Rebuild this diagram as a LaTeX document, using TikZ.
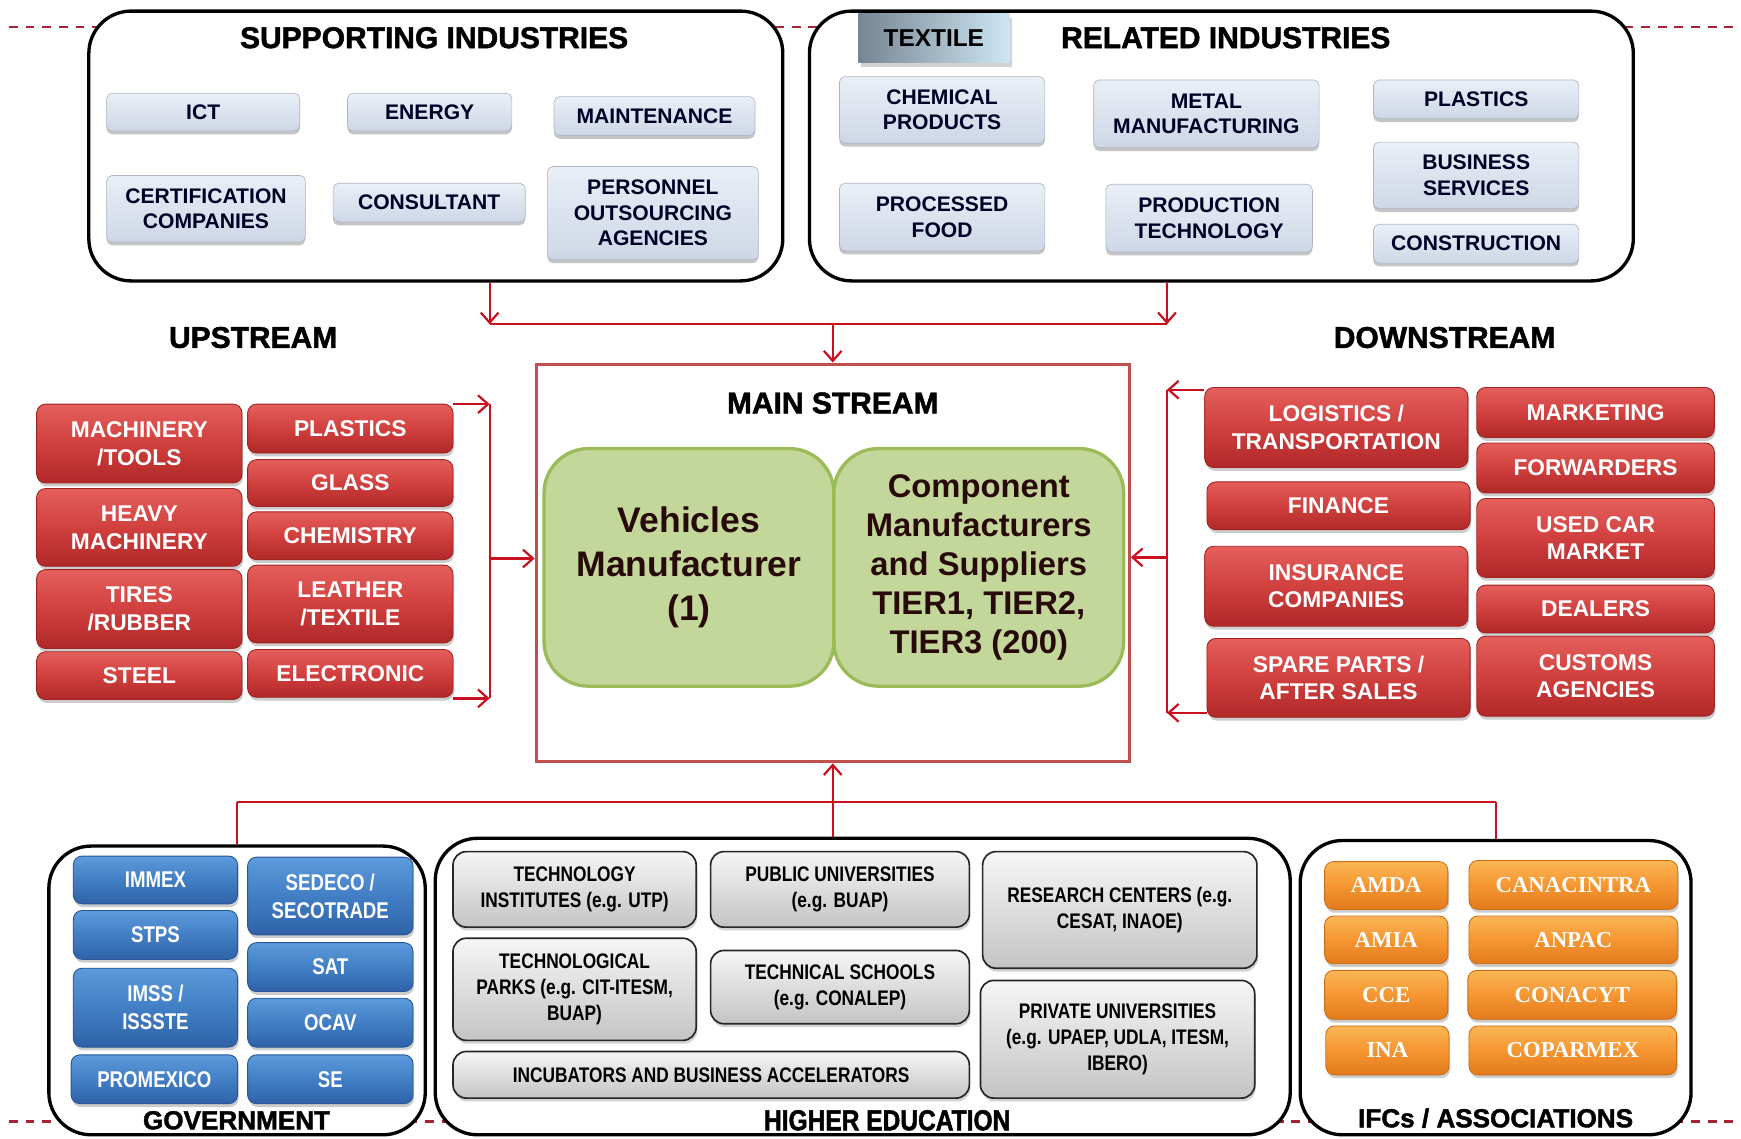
\documentclass[tikz,border=0pt]{standalone}
\usepackage{fontspec}
\setmainfont{Liberation Sans}
\newfontfamily\narrowf[FakeStretch=0.82]{Liberation Sans}
\newfontfamily\heavyf[BoldFeatures={FakeBold=1.6}]{Liberation Sans}
\newfontfamily\heavynf[FakeStretch=0.85,BoldFeatures={FakeBold=1.6}]{Liberation Sans}
\newfontfamily\timesf{Liberation Serif}
\usetikzlibrary{arrows.meta,shadows}
\definecolor{conn}{RGB}{200,16,30}
\definecolor{dashc}{RGB}{165,35,50}
\definecolor{msred}{RGB}{192,80,77}
\definecolor{grnF}{RGB}{196,215,155}
\definecolor{grnD}{RGB}{155,187,89}
\definecolor{redT}{RGB}{228,95,92}
\definecolor{redM}{RGB}{208,64,62}
\definecolor{redB}{RGB}{176,40,40}
\definecolor{redD}{RGB}{160,35,35}
\definecolor{bluT}{RGB}{92,155,220}
\definecolor{bluM}{RGB}{66,126,196}
\definecolor{bluB}{RGB}{46,98,168}
\definecolor{bluD}{RGB}{40,85,150}
\definecolor{orT}{RGB}{252,182,86}
\definecolor{orM}{RGB}{245,150,50}
\definecolor{orB}{RGB}{226,122,28}
\definecolor{orD}{RGB}{205,110,20}
\definecolor{gT}{RGB}{246,246,246}
\definecolor{gB}{RGB}{196,196,196}
\definecolor{lT}{RGB}{234,239,247}
\definecolor{lB}{RGB}{206,215,230}
\definecolor{lD}{RGB}{175,182,195}
\definecolor{txA}{RGB}{118,133,148}
\definecolor{txB}{RGB}{206,230,243}
\definecolor{mstx}{RGB}{40,10,10}
\newcommand\bx[7]{\node[#1,minimum width={#5-#3},minimum height={#6-#4}] (#2) at ({(#3+#5)/2},{(#4+#6)/2}) {#7};}
\tikzset{
  connl/.style={draw=conn, line width=2pt},
  arr/.style={-{Straight Barb[length=9pt,width=16pt]}},
  bigbox/.style={draw=black, line width=3pt, rounded corners=38pt, fill=white, inner sep=0pt},
  ttl/.style={font=\heavyf\fontsize{27}{30}\selectfont\bfseries, text=black, inner sep=0pt},
  bttl/.style={font=\heavyf\fontsize{23.5}{28}\selectfont\bfseries, text=black, inner sep=0pt},
  lbox/.style={rounded corners=5pt, top color=lT, bottom color=lB, draw=lD, line width=0.6pt,
    drop shadow={opacity=0.45, shadow xshift=0pt, shadow yshift=-3pt},
    font=\fontsize{19}{23}\selectfont\bfseries, text=black!85!blue, align=center, inner sep=0pt},
  redbox/.style={rounded corners=8pt, top color=redT, bottom color=redB, middle color=redM,
    draw=redD, line width=0.8pt, drop shadow={opacity=0.4, shadow xshift=1pt, shadow yshift=-3pt},
    text=white, font=\fontsize{20.5}{25}\selectfont\bfseries, align=center, inner sep=0pt},
  bluebox/.style={rounded corners=8pt, top color=bluT, bottom color=bluB, middle color=bluM,
    draw=bluD, line width=0.8pt, drop shadow={opacity=0.4, shadow xshift=1pt, shadow yshift=-3pt},
    text=white, font=\narrowf\fontsize{20.5}{25}\selectfont\bfseries, align=center, inner sep=0pt},
  orbox/.style={rounded corners=8pt, top color=orT, bottom color=orB, middle color=orM,
    draw=orD, line width=0.8pt, drop shadow={opacity=0.4, shadow xshift=1pt, shadow yshift=-3pt},
    text=white, font=\timesf\fontsize{20.5}{25}\selectfont\bfseries, align=center, inner sep=0pt},
  graybox/.style={rounded corners=12pt, top color=gT, bottom color=gB, draw=black!85, line width=1.5pt,
    drop shadow={opacity=0.35, shadow xshift=1pt, shadow yshift=-3pt},
    text=black, font=\narrowf\fontsize{19}{23.5}\selectfont\bfseries, align=center, inner sep=0pt},
  grnbox/.style={rounded corners=40pt, fill=grnF, draw=grnD, line width=3pt, align=center, inner sep=0pt, text=mstx}
}
\begin{document}
\begin{tikzpicture}[x=1pt,y=-1pt]
\useasboundingbox (0,0) rectangle (1568,1025);
% dashed guide lines
\draw[dashc, line width=2pt, dash pattern=on 8pt off 7pt] (8,24) -- (1568,24);
\draw[dashc, line width=2pt, dash pattern=on 8pt off 7pt] (8,1010) -- (1568,1010);

% ---------- supporting industries
\bx{bigbox}{si}{80}{10}{705}{253}{}
\node[ttl] (sit) at (391,34) {SUPPORTING INDUSTRIES};
\bx{lbox}{s1}{96}{84}{270}{118}{ICT}
\bx{lbox}{s2}{313}{84}{461}{118}{ENERGY}
\bx{lbox}{s3}{499}{87}{680}{122}{MAINTENANCE}
\bx{lbox}{s4}{96}{158}{275}{218}{CERTIFICATION\\COMPANIES}
\bx{lbox}{s5}{300}{165}{473}{200}{CONSULTANT}
\bx{lbox}{s6}{493}{150}{683}{234}{PERSONNEL\\OUTSOURCING\\AGENCIES}

% ---------- related industries
\bx{bigbox}{ri}{729}{10}{1471}{253}{}
\bx{left color=txA, right color=txB, drop shadow={opacity=0.35, shadow yshift=-4pt}, font=\fontsize{22}{26}\selectfont\bfseries, inner sep=0pt}{tx}{773}{12}{909}{56}{TEXTILE}
\node[ttl] (rit) at (1104,34) {RELATED INDUSTRIES};
\bx{lbox}{r1}{756}{69}{941}{129}{CHEMICAL\\PRODUCTS}
\bx{lbox}{r2}{985}{72}{1188}{133}{METAL\\MANUFACTURING}
\bx{lbox}{r3}{1237}{72}{1422}{107}{PLASTICS}
\bx{lbox}{r4}{756}{165}{941}{226}{PROCESSED\\FOOD}
\bx{lbox}{r5}{996}{166}{1182}{227}{PRODUCTION\\TECHNOLOGY}
\bx{lbox}{r6}{1237}{128}{1422}{188}{BUSINESS\\SERVICES}
\bx{lbox}{r7}{1237}{202}{1422}{237}{CONSTRUCTION}

% ---------- main stream
\bx{draw=msred, line width=3pt, fill=white}{ms}{483}{328}{1017}{686}{}
\node[ttl] (mst) at (750,363) {MAIN STREAM};
\bx{grnbox, font=\fontsize{32}{40}\selectfont\bfseries}{vm}{490}{404}{751}{618}{Vehicles\\Manufacturer\\(1)}
\bx{grnbox, font=\fontsize{29.5}{35}\selectfont\bfseries}{cm}{751}{404}{1012}{618}{Component\\Manufacturers\\and Suppliers\\TIER1, TIER2,\\TIER3 (200)}

% top connectors
\coordinate (tj1) at (441,292);
\coordinate (tj2) at (1051,292);
\coordinate (tjm) at (750,292);
\draw[connl, arr] (tj1 |- si.south) -- (tj1);
\draw[connl, arr] (tj2 |- ri.south) -- (tj2);
\draw[connl] (tj1) -- (tj2);
\draw[connl, arr] (tjm) -- (ms.north);

% ---------- upstream
\node[ttl] (upt) at (228,304) {UPSTREAM};
\bx{redbox}{u1}{33}{364}{218}{435}{MACHINERY\\/TOOLS}
\bx{redbox}{u2}{33}{440}{218}{510}{HEAVY\\MACHINERY}
\bx{redbox}{u3}{33}{513}{218}{584}{TIRES\\/RUBBER}
\bx{redbox}{u4}{33}{587}{218}{630}{STEEL}
\bx{redbox}{u5}{223}{364}{408}{408}{PLASTICS}
\bx{redbox}{u6}{223}{414}{408}{456}{GLASS}
\bx{redbox}{u7}{223}{461}{408}{504}{CHEMISTRY}
\bx{redbox}{u8}{223}{509}{408}{579}{LEATHER\\/TEXTILE}
\bx{redbox}{u9}{223}{585}{408}{628}{ELECTRONIC}
\coordinate (uj1) at (441,364);
\coordinate (uj2) at (441,629);
\coordinate (ujm) at (441,503);
\draw[connl] (uj1) -- (uj2);
\draw[connl, arr] (u5.north east |- uj1) -- (uj1);
\draw[connl, arr] (u9.south east |- uj2) -- (uj2);
\draw[connl, arr] (ujm) -- (ujm -| ms.west);

% ---------- downstream
\node[ttl] (dnt) at (1301,304) {DOWNSTREAM};
\bx{redbox}{d1}{1085}{349}{1322}{421}{LOGISTICS /\\TRANSPORTATION}
\bx{redbox}{d2}{1087}{434}{1324}{477}{FINANCE}
\bx{redbox}{d3}{1085}{492}{1322}{564}{INSURANCE\\COMPANIES}
\bx{redbox}{d4}{1087}{575}{1324}{646}{SPARE PARTS /\\AFTER SALES}
\bx{redbox}{d5}{1330}{349}{1544}{394}{MARKETING}
\bx{redbox}{d6}{1330}{399}{1544}{444}{FORWARDERS}
\bx{redbox}{d7}{1330}{449}{1544}{520}{USED CAR\\MARKET}
\bx{redbox}{d8}{1330}{527}{1544}{570}{DEALERS}
\bx{redbox}{d9}{1330}{573}{1544}{645}{CUSTOMS\\AGENCIES}
\coordinate (dj1) at (1051,351);
\coordinate (dj2) at (1051,642);
\coordinate (djm) at (1051,502);
\draw[connl] (dj1) -- (dj2);
\draw[connl, arr] (d1.west |- dj1) -- (dj1);
\draw[connl, arr] (d4.west |- dj2) -- (dj2);
\draw[connl, arr] (djm) -- (djm -| ms.east);

% ---------- bottom groups
\bx{bigbox}{gv}{44}{762}{383}{1022}{}
\bx{bigbox}{he}{392}{755}{1162}{1022}{}
\bx{bigbox}{ifc}{1171}{757}{1523}{1022}{}

\coordinate (bj) at (750,722);
\draw[connl, arr] (bj) -- (ms.south);
\draw[connl] (gv.north |- bj) -- (ifc.north |- bj);
\draw[connl] (gv.north |- bj) -- (gv.north);
\draw[connl] (bj) -- (bj |- he.north);
\draw[connl] (ifc.north |- bj) -- (ifc.north);

% government
\bx{bluebox}{g1}{66}{771}{214}{814}{IMMEX}
\bx{bluebox}{g2}{66}{820}{214}{864}{STPS}
\bx{bluebox}{g3}{66}{872}{214}{943}{IMSS /\\ISSSTE}
\bx{bluebox}{g4}{64}{950}{214}{994}{PROMEXICO}
\bx{bluebox}{g5}{223}{772}{372}{842}{SEDECO /\\SECOTRADE}
\bx{bluebox}{g6}{223}{849}{372}{893}{SAT}
\bx{bluebox}{g7}{223}{899}{372}{943}{OCAV}
\bx{bluebox}{g8}{223}{950}{372}{994}{SE}
\node[bttl] (gvt) at (213,1009) {GOVERNMENT};

% higher education
\bx{graybox}{h1}{408}{767}{627}{835}{TECHNOLOGY\\INSTITUTES (e.g. UTP)}
\bx{graybox}{h2}{640}{767}{873}{835}{PUBLIC UNIVERSITIES\\(e.g. BUAP)}
\bx{graybox}{h3}{885}{767}{1132}{872}{RESEARCH CENTERS (e.g.\\CESAT, INAOE)}
\bx{graybox}{h4}{408}{845}{627}{937}{TECHNOLOGICAL\\PARKS (e.g. CIT-ITESM,\\BUAP)}
\bx{graybox}{h5}{640}{856}{873}{922}{TECHNICAL SCHOOLS\\(e.g. CONALEP)}
\bx{graybox}{h6}{883}{883}{1130}{989}{PRIVATE UNIVERSITIES\\(e.g. UPAEP, UDLA, ITESM,\\IBERO)}
\bx{graybox}{h7}{408}{947}{873}{989}{INCUBATORS AND BUSINESS ACCELERATORS}
\node[bttl, font=\heavynf\fontsize{26}{28}\selectfont\bfseries] (het) at (799,1009) {HIGHER EDUCATION};

% IFCs
\bx{orbox}{o1}{1193}{776}{1304}{819}{AMDA}
\bx{orbox}{o2}{1193}{825}{1304}{868}{AMIA}
\bx{orbox}{o3}{1193}{874}{1304}{918}{CCE}
\bx{orbox}{o4}{1194}{924}{1305}{968}{INA}
\bx{orbox}{o5}{1323}{775}{1511}{819}{CANACINTRA}
\bx{orbox}{o6}{1323}{825}{1511}{868}{ANPAC}
\bx{orbox}{o7}{1322}{874}{1510}{918}{CONACYT}
\bx{orbox}{o8}{1323}{924}{1510}{968}{COPARMEX}
\node[bttl] (ifct) at (1347,1007) {IFCs / ASSOCIATIONS};
\end{tikzpicture}
\end{document}
